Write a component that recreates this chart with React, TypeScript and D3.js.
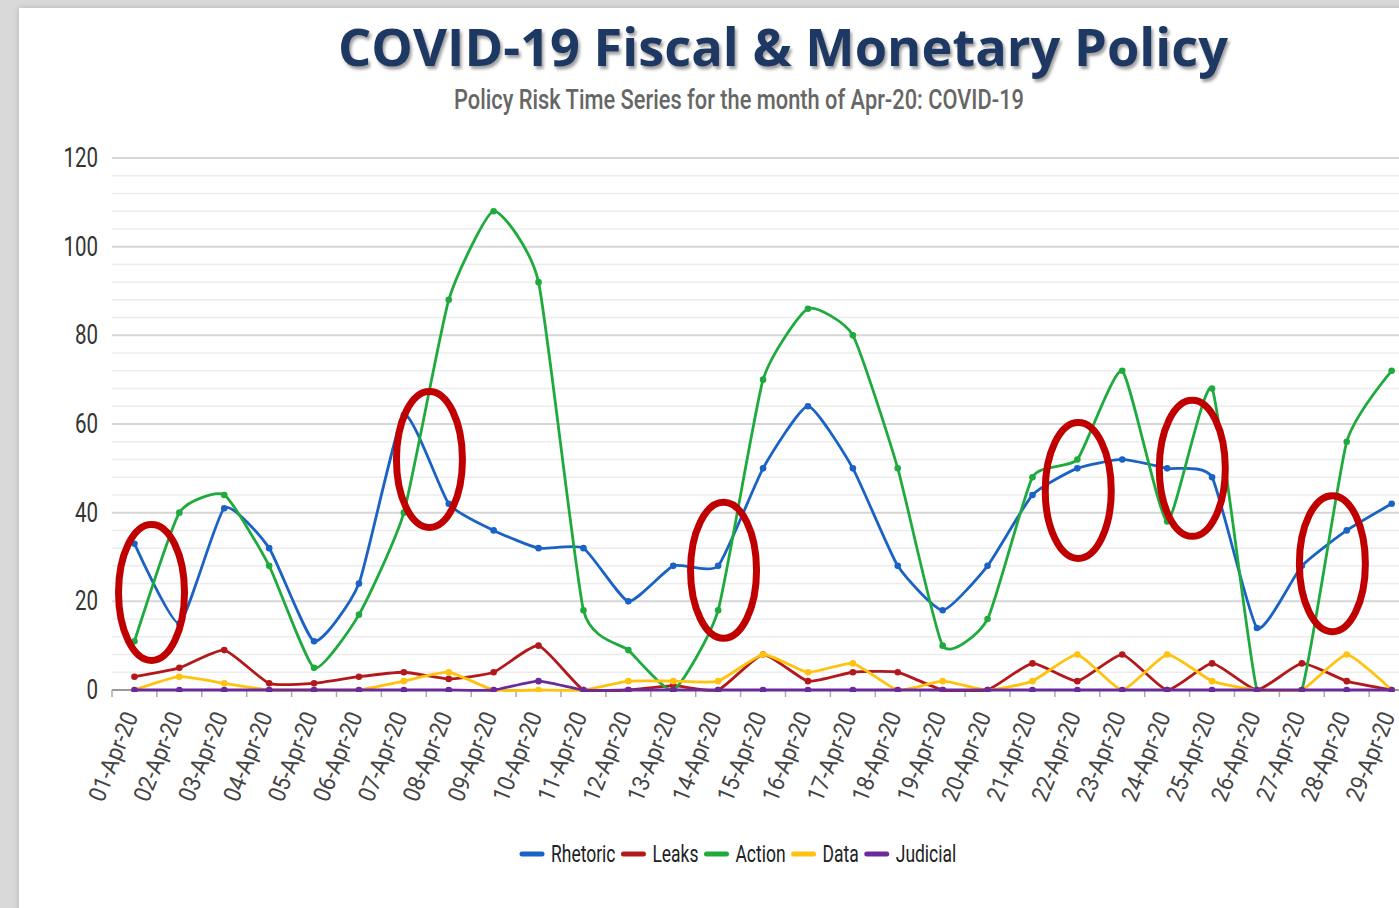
import React, { useEffect, useRef } from 'react'
import * as d3 from 'd3'

const days = [
  '01-Apr-20', '02-Apr-20', '03-Apr-20', '04-Apr-20', '05-Apr-20', '06-Apr-20', '07-Apr-20',
  '08-Apr-20', '09-Apr-20', '10-Apr-20', '11-Apr-20', '12-Apr-20', '13-Apr-20', '14-Apr-20',
  '15-Apr-20', '16-Apr-20', '17-Apr-20', '18-Apr-20', '19-Apr-20', '20-Apr-20', '21-Apr-20',
  '22-Apr-20', '23-Apr-20', '24-Apr-20', '25-Apr-20', '26-Apr-20', '27-Apr-20', '28-Apr-20',
  '29-Apr-20',
]

const rhetoric = [33, 15, 41, 32, 11, 24, 62, 42, 36, 32, 32, 20, 28, 28, 50, 64, 50, 28, 18, 28, 44, 50, 52, 50, 48, 14, 28, 36, 42]
const leaks = [3, 5, 9, 1.5, 1.5, 3, 4, 2.5, 4, 10, 0, 0, 1, 0, 8, 2, 4, 4, 0, 0, 6, 2, 8, 0, 6, 0, 6, 2, 0]
const action = [11, 40, 44, 28, 5, 17, 40, 88, 108, 92, 18, 9, 0, 18, 70, 86, 80, 50, 10, 16, 48, 52, 72, 38, 68, 0, 0, 56, 72]
const dataSeries = [0, 3, 1.5, 0, 0, 0, 2, 4, 0, 0, 0, 2, 2, 2, 8, 4, 6, 0, 2, 0, 2, 8, 0, 8, 2, 0, 0, 8, 0]
const judicial = [0, 0, 0, 0, 0, 0, 0, 0, 0, 2, 0, 0, 0, 0, 0, 0, 0, 0, 0, 0, 0, 0, 0, 0, 0, 0, 0, 0, 0]

const seriesNames = ['Rhetoric', 'Leaks', 'Action', 'Data', 'Judicial']
const seriesColors = ['#1a63c4', '#b3191c', '#1faa3e', '#ffc20e', '#6b2a9c']

const yTicks = [0, 20, 40, 60, 80, 100, 120]

// red rings drawn on top: centre given as day position and value
const ringDays = [0.38, 6.57, 13.12, 21.02, 23.56, 26.68]
const ringValues = [22, 52, 27, 45, 50, 28.5]

export default function App() {
  const ref = useRef<SVGSVGElement>(null)

  useEffect(() => {
    document.body.style.margin = '0'
    document.body.style.overflow = 'hidden'
    const svg = d3.select(ref.current)
    svg.selectAll('*').remove()

    const defs = svg.append('defs')
    const sh = defs.append('filter').attr('id', 'titleShadow').attr('x', '-5%').attr('y', '-20%').attr('width', '110%').attr('height', '150%')
    sh.append('feDropShadow').attr('dx', 2).attr('dy', 3).attr('stdDeviation', 1.5)
      .attr('flood-color', '#777').attr('flood-opacity', 0.7)
    const cs = defs.append('filter').attr('id', 'cardShadow').attr('x', '-5%').attr('y', '-5%').attr('width', '110%').attr('height', '110%')
    cs.append('feDropShadow').attr('dx', 0).attr('dy', 0).attr('stdDeviation', 3)
      .attr('flood-color', '#aaa').attr('flood-opacity', 0.8)
    defs.append('clipPath').attr('id', 'plotClip')
      .append('rect').attr('x', 112).attr('y', 140).attr('width', 1320).attr('height', 552)

    // page + card
    svg.append('rect').attr('width', 1399).attr('height', 908).attr('fill', '#d9d9d9')
    svg.append('rect').attr('x', 19).attr('y', 8).attr('width', 1420).attr('height', 940)
      .attr('fill', '#fff').attr('filter', 'url(#cardShadow)')

    const x = d3.scaleBand().domain(days).range([112, 112 + 29 * 44.9])
    const cx = (i: number) => (x(days[0]) as number) + x.bandwidth() * (i + 0.5)
    const y = d3.scaleLinear().domain([0, 120]).range([690, 158])

    const condensed = (g: any, str: string, px: number, py: number, o: any) => {
      const t = g.append('text')
        .attr('transform', `translate(${px},${py})${o.rotate ? ` rotate(${o.rotate})` : ''} scale(${o.sx ?? 0.8},1)`)
        .attr('text-anchor', o.anchor ?? 'start')
        .attr('font-family', o.family ?? 'Roboto, sans-serif')
        .attr('font-size', o.size)
        .attr('fill', o.fill ?? '#333')
        .text(str)
      return t
    }

    // titles
    svg.append('text').attr('x', 783).attr('y', 66).attr('text-anchor', 'middle')
      .attr('font-family', '"Open Sans", sans-serif').attr('font-weight', 700).attr('font-size', 52)
      .attr('fill', '#1f3864').attr('textLength', 890).attr('lengthAdjust', 'spacingAndGlyphs')
      .attr('filter', 'url(#titleShadow)')
      .text('COVID-19 Fiscal & Monetary Policy')
    svg.append('text').attr('x', 739).attr('y', 109).attr('text-anchor', 'middle')
      .attr('font-family', 'Roboto, sans-serif').attr('font-weight', 500).attr('font-size', 27)
      .attr('fill', '#666').attr('textLength', 570).attr('lengthAdjust', 'spacingAndGlyphs')
      .text('Policy Risk Time Series for the month of Apr-20: COVID-19')

    // gridlines
    const grid = svg.append('g')
    const gridVals = d3.range(4, 121, 4)
    grid.selectAll('line').data(gridVals).join('line')
      .attr('x1', 112).attr('x2', 1399)
      .attr('y1', (d: number) => y(d)).attr('y2', (d: number) => y(d))
      .attr('stroke', (d: number) => (d % 20 === 0 ? '#d6d6d6' : '#ececec'))
      .attr('stroke-width', (d: number) => (d % 20 === 0 ? 2 : 1.5))

    // y labels
    const yl = svg.append('g')
    yTicks.forEach(t => condensed(yl, String(t), 98, y(t) + 9, { size: 27, anchor: 'end', sx: 0.76, fill: '#333' }))

    // baseline + ticks
    svg.append('line').attr('x1', 112).attr('x2', 1399).attr('y1', y(0)).attr('y2', y(0))
      .attr('stroke', '#999').attr('stroke-width', 2)
    svg.append('g').selectAll('line').data(days).join('line')
      .attr('x1', (d: string) => x(d) as number).attr('x2', (d: string) => x(d) as number)
      .attr('y1', y(0)).attr('y2', y(0) + 7)
      .attr('stroke', '#aaa').attr('stroke-width', 1.5)

    // x labels
    const xl = svg.append('g')
    days.forEach((d, i) => condensed(xl, d, cx(i) + 4, 716, { size: 24, anchor: 'end', rotate: -68, sx: 0.9, fill: '#444' }))

    // series
    const all = [rhetoric, leaks, action, dataSeries, judicial]
    const line = d3.line<number>().x((_, i) => cx(i)).y(v => y(v)).curve(d3.curveCardinal.tension(0.5))
    const plot = svg.append('g').attr('clip-path', 'url(#plotClip)')
    all.forEach((vals, s) => {
      const g = plot.append('g')
      g.append('path').attr('d', line(vals) as string).attr('fill', 'none')
        .attr('stroke', seriesColors[s]).attr('stroke-width', 2.8)
      g.selectAll('circle').data(vals).join('circle')
        .attr('cx', (_: number, i: number) => cx(i)).attr('cy', (v: number) => y(v)).attr('r', 3.3)
        .attr('fill', seriesColors[s])
    })

    // rings
    svg.append('g').selectAll('ellipse').data(ringDays).join('ellipse')
      .attr('cx', (d: number) => cx(d)).attr('cy', (_: number, i: number) => y(ringValues[i]))
      .attr('rx', 33).attr('ry', 68)
      .attr('fill', 'none').attr('stroke', '#c00000').attr('stroke-width', 7)

    // legend
    const lg = svg.append('g')
    let lx = 522
    seriesNames.forEach((n, s) => {
      lg.append('line').attr('x1', lx).attr('x2', lx + 20).attr('y1', 854).attr('y2', 854)
        .attr('stroke', seriesColors[s]).attr('stroke-width', 5).attr('stroke-linecap', 'round')
      const t = condensed(lg, n, lx + 29, 862, { size: 23, sx: 0.76, fill: '#222' })
      const w = (t.node() as SVGTextElement).getComputedTextLength() * 0.76
      lx += 29 + w + 8
    })
  }, [])

  return <svg ref={ref} width={1399} height={908} style={{ display: 'block' }} />
}
